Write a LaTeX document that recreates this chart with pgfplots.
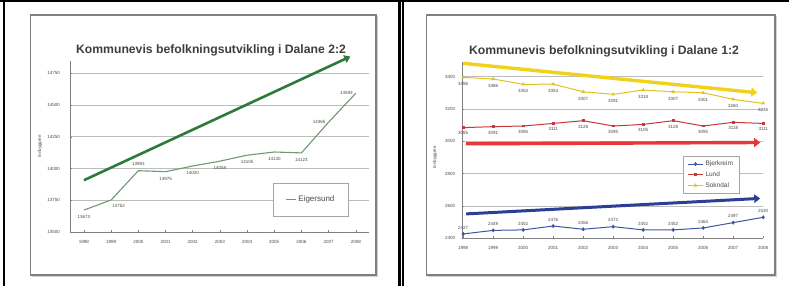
\documentclass[border=0pt]{standalone}
\usepackage{fontspec}
\setmainfont{Liberation Sans}
\usepackage{pgfplots}
\pgfplotsset{compat=1.18}
\usetikzlibrary{arrows.meta}
\definecolor{frameg}{HTML}{7F7F7F}
\definecolor{gridg}{HTML}{BDBDBD}
\definecolor{txt}{HTML}{4A4A4A}
\definecolor{ttl}{HTML}{3E3E3E}
\definecolor{eline}{HTML}{6E9A6E}
\definecolor{earrow}{HTML}{2E7A3A}
\definecolor{sline}{HTML}{E2C21E}
\definecolor{sarrow}{HTML}{F2D11A}
\definecolor{lline}{HTML}{C8383A}
\definecolor{larrow}{HTML}{E5383B}
\definecolor{bline}{HTML}{4055A0}
\definecolor{barrow}{HTML}{2B3F95}
\pgfplotsset{
  slide/.style={scale only axis, anchor=south west,
    axis x line*=bottom, axis y line*=left,
    axis line style={gray,-}, ymajorgrids,
    grid style={gridg, line width=0.8pt},
    tick style={gray, line width=0.5pt}, major tick length=2pt,
    xtick={1998,...,2008},
    scaled ticks=false,
    ticklabel style={font=\fontsize{4.5}{5}\selectfont, text=txt},
    xticklabel style={yshift=-5pt},
    /pgf/number format/1000 sep={},
    /pgf/number format/assume math mode=true,
    clip=false,
    ylabel style={font=\fontsize{4.5}{5}\selectfont, text=txt, rotate=0},
  },
  lab/.style={forget plot, draw=none, mark=none,
    nodes near coords={\pgfmathprintnumber[fixed,precision=0,1000 sep={}]{\pgfplotspointmeta}},
    nodes near coords style={font=\fontsize{4.5}{5}\selectfont, text=txt, inner sep=0pt}},
}
\begin{document}
\begin{tikzpicture}[x=1pt,y=1pt]
\path[use as bounding box] (0,0) rectangle (789,286);
\fill[white] (0,0) rectangle (789,286);
% outer frames
\draw[line width=2pt] (4,0) -- (4,285);
\draw[line width=2pt] (0,285) -- (789,285);
\draw[line width=2.2pt] (399.5,0) -- (399.5,285);
\draw[line width=1.7pt] (403.2,0) -- (403.2,285);
% slides
\draw[gray!35, line width=1.2pt] (32,9.5) -- (377.5,9.5) -- (377.5,269.5);
\draw[frameg, line width=1.8pt, fill=white] (30.5,11) rectangle (376,271);
\draw[gray!35, line width=1.2pt] (428,9.5) -- (776.5,9.5) -- (776.5,269.5);
\draw[frameg, line width=1.8pt, fill=white] (426.5,11) rectangle (775,271);
% titles
\node[text=ttl, font=\fontsize{12.2}{14}\selectfont\bfseries] at (211,236) {Kommunevis befolkningsutvikling i Dalane 2:2};
\node[text=ttl, font=\fontsize{12.2}{14}\selectfont\bfseries] at (604,235) {Kommunevis befolkningsutvikling i Dalane 1:2};

% ---------------- left chart: Eigersund
\begin{axis}[slide, at={(70.4pt,54pt)}, width=299pt, height=171.4pt,
  xmin=1997.5, xmax=2008.5, ymin=13500, ymax=14850,
  ytick={13500,13750,...,14750},
  yticklabel style={xshift=-7pt},
  ylabel={Innbyggere}, ylabel style={at={(axis description cs:-0.102,0.5)}, anchor=center},
  legend style={at={(0.678,0.286)}, anchor=north west, draw=gray!70, fill=white,
    font=\fontsize{8}{9}\selectfont, text=txt, inner xsep=12pt, inner ysep=11pt},
  legend image code/.code={\draw[#1] (0pt,0pt) -- (10pt,0pt);},
]
\addplot[eline, line width=1.1pt] coordinates {
(1998,13673) (1999,13752) (2000,13983) (2001,13975) (2002,14020) (2003,14058)
(2004,14105) (2005,14130) (2006,14123) (2007,14365) (2008,14593)};
\addlegendentry{Eigersund}
\addplot[forget plot, earrow, line width=2.6pt, -{Triangle[length=6pt,width=8pt]}] coordinates {(1998,13908) (2007.8,14882)};
\addplot[lab, nodes near coords style={anchor=north, yshift=-5pt}] coordinates {
(1998,13673) (2001,13975) (2002,14020) (2003,14058) (2004,14105) (2005,14130) (2006,14123)};
\addplot[lab, nodes near coords style={anchor=north west, yshift=-4pt, xshift=1pt}] coordinates {(1999,13752)};
\addplot[lab, nodes near coords style={anchor=south, yshift=5pt}] coordinates {(2000,13983)};
\addplot[lab, nodes near coords style={anchor=east, xshift=-3pt}] coordinates {(2007,14365) (2008,14593)};
\end{axis}

% ---------------- right chart
\begin{axis}[slide, at={(461.7pt,47.7pt)}, width=301.5pt, height=176.1pt,
  xmin=1997.95, xmax=2008, ymin=2400, ymax=3490,
  ytick={2400,2600,...,3400},
  yticklabel style={xshift=-3pt},
  ylabel={Innbyggere}, ylabel style={at={(axis description cs:-0.089,0.46)}, anchor=center},
  legend style={at={(0.735,0.466)}, anchor=north west, draw=gray!70, fill=white,
    font=\fontsize{6.5}{7.5}\selectfont, text=txt, inner xsep=4pt, inner ysep=2.5pt, row sep=0.5pt},
  legend cell align=left,
  legend image code/.code={\draw[mark repeat=2,mark phase=2,#1] plot coordinates {(0pt,0pt) (7.5pt,0pt) (15pt,0pt)};},
]
\addplot[bline, line width=1pt, mark=diamond*, mark size=1.3pt] coordinates {
(1998,2427) (1999,2449) (2000,2452) (2001,2476) (2002,2456) (2003,2472)
(2004,2452) (2005,2452) (2006,2464) (2007,2497) (2008,2530)};
\addlegendentry{Bjerkreim}
\addplot[lline, line width=1pt, mark=square*, mark size=0.9pt] coordinates {
(1998,3085) (1999,3091) (2000,3095) (2001,3111) (2002,3128) (2003,3095)
(2004,3105) (2005,3128) (2006,3095) (2007,3118) (2008,3111)};
\addlegendentry{Lund}
\addplot[sline, line width=1pt, mark=triangle*, mark size=1.2pt] coordinates {
(1998,3396) (1999,3386) (2000,3353) (2001,3354) (2002,3307) (2003,3291)
(2004,3318) (2005,3307) (2006,3301) (2007,3260) (2008,3235)};
\addlegendentry{Sokndal}
\addplot[forget plot, sarrow, line width=3.4pt, -{Triangle[length=6pt,width=9pt]}] coordinates {(1998,3483) (2007.8,3301)};
\addplot[forget plot, larrow, line width=3.4pt, -{Triangle[length=6pt,width=9pt]}] coordinates {(1998.1,2985) (2007.9,2993)};
\addplot[forget plot, barrow, line width=3pt, -{Triangle[length=6pt,width=8.5pt]}] coordinates {(1998.1,2551) (2007.9,2647)};
\addplot[lab, nodes near coords style={anchor=south, yshift=4.5pt}] coordinates {
(1998,2427) (1999,2449) (2000,2452) (2001,2476) (2002,2456) (2003,2472)
(2004,2452) (2005,2452) (2006,2464) (2007,2497) (2008,2530)};
\addplot[lab, nodes near coords style={anchor=north, yshift=-4pt}] coordinates {
(1998,3085) (1999,3091) (2000,3095) (2001,3111) (2002,3128) (2003,3095)
(2004,3105) (2005,3128) (2006,3095) (2007,3118) (2008,3111)};
\addplot[lab, nodes near coords style={anchor=north, yshift=-5pt}] coordinates {
(1998,3396) (1999,3386) (2000,3353) (2001,3354) (2002,3307) (2003,3291)
(2004,3318) (2005,3307) (2006,3301) (2007,3260) (2008,3235)};
\end{axis}
\end{tikzpicture}
\end{document}
